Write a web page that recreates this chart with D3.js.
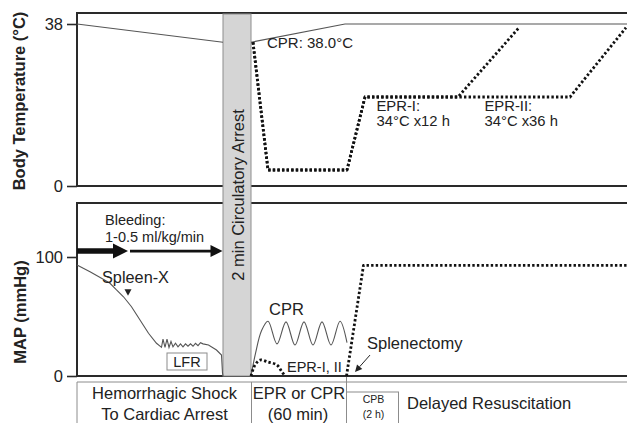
<!DOCTYPE html>
<html>
<head>
<meta charset="utf-8">
<script src="https://cdn.jsdelivr.net/npm/d3@7"></script>
<style>
  body { margin: 0; background: #fff; }
  svg { display: block; }
  text { font-family: "Liberation Sans", Arial, Helvetica, sans-serif; fill: #222; }
</style>
</head>
<body>
<svg id="chart" width="627" height="423"></svg>
<script>
// ---- data (schematic time units along x: 0 .. 110) ----
const tempTicks = [0, 38];
const mapTicks = [0, 100];

// phase boundaries
const arrestStart = 29.2, arrestEnd = 34.8;
const eprEnd = 53.9;

// body temperature (°C)
const tempShock = [[0, 38], [29.2, 37]];
const tempCPR = [[34.8, 37], [53.6, 38], [110, 38]];
const tempEPR1 = [[35.2, 37], [38.2, 10], [54, 10], [57.6, 34], [76.2, 34], [88.4, 37.8]];
const tempEPR2 = [[35.2, 37], [38.2, 10], [54, 10], [57.6, 34], [76.2, 34], [98.6, 34], [109.8, 37.8]];

// mean arterial pressure (mmHg)
const mapShock = [
  [0, 93.3], [2.6, 87.6], [4.9, 82.1], [6.6, 77.9], [7.9, 72.3], [9.3, 66.6],
  [10.9, 58.2], [12.6, 47.1], [14.3, 35.9], [15.9, 27.5], [16.9, 24.1],
  [17.2, 31], [17.6, 24], [18.0, 31], [18.4, 24], [18.8, 29], [19.2, 24.5],
  [19.7, 27.5], [20.2, 24.5], [20.7, 27], [21.2, 24.5], [21.7, 27], [22.2, 25],
  [22.7, 27], [23.2, 25], [23.7, 27.5], [24.2, 25.5], [24.7, 28], [25.2, 27],
  [26.3, 26], [27.9, 21.8], [28.9, 17.6], [29.1, 2.5], [29.2, 0]
];
const mapCPR = [
  [34.8, 0], [35.7, 19], [36.9, 38], [38.2, 46], [40, 27], [41.8, 45.5], [43.6, 26],
  [45.4, 45.5], [47.2, 26], [49, 45.5], [50.8, 26], [52.6, 46], [54, 28]
];
const mapEPRflush = [[34.8, 0], [35.6, 9.2], [36.6, 13.4], [38.2, 11.8], [40, 9.2], [41, 3.4], [41.6, 0]];
const mapEPRcpb = [[53.9, 0], [57.3, 93], [110, 93]];

// annotation anchors
const bleedArrows = [
  { from: 0, to: 10.2, map: 105, width: 5.5, head: 15, half: 7.5 },
  { from: 10.6, to: 29.1, map: 105, width: 2.8, head: 12, half: 6 }
];
const spleenMark = [10.2, 70];
const splenectomyArrow = { from: [58.6, 17.6], to: [55.6, 3.4] };

// ---- layout ----
const svg = d3.select("#chart");
const x = d3.scaleLinear().domain([0, 110]).range([77, 627]);
const yT = d3.scaleLinear().domain([0, 10, 34, 38]).range([186, 170, 97, 24]);
const yM = d3.scaleLinear().domain([0, 100]).range([376, 257]);
const topBox = { y0: 13, y1: 186 };
const botBox = { y0: 203, y1: 376 };

svg.append("rect").attr("width", 627).attr("height", 423).attr("fill", "#fff");

// phase label row
const rowTop = 382;
const rowG = svg.append("g").attr("stroke", "#8c8c8c").attr("stroke-width", 1).attr("fill", "none");
rowG.append("line").attr("x1", x(0)).attr("x2", 627).attr("y1", rowTop).attr("y2", rowTop);
rowG.append("line").attr("x1", x(0)).attr("x2", x(0)).attr("y1", rowTop).attr("y2", 423);
rowG.append("line").attr("x1", x(arrestEnd) + 0.5).attr("x2", x(arrestEnd) + 0.5).attr("y1", rowTop).attr("y2", 423);
rowG.append("line").attr("x1", x(eprEnd)).attr("x2", x(eprEnd)).attr("y1", botBox.y1).attr("y2", 423);
rowG.append("rect").attr("x", x(eprEnd)).attr("y", 392).attr("width", 52).attr("height", 40);

function rowText(tx, ty, str, size, anchor) {
  svg.append("text").attr("x", tx).attr("y", ty).attr("font-size", size)
    .attr("text-anchor", anchor || "middle").text(str);
}
rowText(164.5, 399, "Hemorrhagic Shock", 16.5);
rowText(164.5, 420, "To Cardiac Arrest", 16.5);
rowText(299, 399, "EPR or CPR", 16.5);
rowText(298, 420, "(60 min)", 16.5);
rowText(373.5, 403, "CPB", 10.5);
rowText(373.5, 418, "(2 h)", 10.5);
rowText(407, 409, "Delayed Resuscitation", 16.5, "start");

// panel frames
[topBox, botBox].forEach(b => {
  svg.append("rect").attr("x", x(0)).attr("y", b.y0)
    .attr("width", 630 - x(0)).attr("height", b.y1 - b.y0)
    .attr("fill", "none").attr("stroke", "#2a2a2a").attr("stroke-width", 2);
});

// axes
function styleAxis(g) {
  g.select(".domain").remove();
  g.selectAll(".tick line").attr("stroke", "#2a2a2a").attr("stroke-width", 1.6);
  g.selectAll(".tick text").attr("font-size", 16.5).attr("fill", "#222")
    .attr("font-family", "Liberation Sans, Arial, sans-serif");
}
svg.append("g").attr("transform", `translate(${x(0)},0)`)
  .call(d3.axisLeft(yT).tickValues(tempTicks).tickSize(10).tickPadding(4))
  .call(styleAxis);
svg.append("g").attr("transform", `translate(${x(0)},0)`)
  .call(d3.axisLeft(yM).tickValues(mapTicks).tickSize(10).tickPadding(4))
  .call(styleAxis);

// axis titles
svg.append("text").attr("transform", "translate(24.5,101) rotate(-90)")
  .attr("text-anchor", "middle").attr("font-size", 16.5).attr("font-weight", "bold")
  .text("Body Temperature (°C)");
svg.append("text").attr("transform", "translate(25.5,312) rotate(-90)")
  .attr("text-anchor", "middle").attr("font-size", 16.5).attr("font-weight", "bold")
  .text("MAP (mmHg)");

// circulatory arrest band
svg.append("rect").attr("x", x(arrestStart)).attr("y", topBox.y0 + 1)
  .attr("width", x(arrestEnd) - x(arrestStart)).attr("height", botBox.y1 - topBox.y0 - 1)
  .attr("fill", "#d5d5d5").attr("stroke", "#8e8e8e").attr("stroke-width", 1);
svg.append("text")
  .attr("transform", `translate(${(x(arrestStart) + x(arrestEnd)) / 2 + 7},195) rotate(-90)`)
  .attr("text-anchor", "middle").attr("font-size", 16.5).text("2 min Circulatory Arrest");

// line generators
const lineT = d3.line().x(d => x(d[0])).y(d => yT(d[1]));
const lineM = d3.line().x(d => x(d[0])).y(d => yM(d[1]));
const smoothM = d3.line().x(d => x(d[0])).y(d => yM(d[1])).curve(d3.curveCatmullRom.alpha(0.5));

function solid(path) {
  return path.attr("fill", "none").attr("stroke", "#555").attr("stroke-width", 1.1);
}
function dotted(path) {
  return path.attr("fill", "none").attr("stroke", "#111").attr("stroke-width", 2.8)
    .attr("stroke-dasharray", "2.4 2.2").attr("stroke-linejoin", "round");
}

// temperature traces
solid(svg.append("path").attr("d", lineT(tempShock)));
solid(svg.append("path").attr("d", lineT(tempCPR)));
dotted(svg.append("path").attr("d", lineT(tempEPR2)));
dotted(svg.append("path").attr("d", lineT(tempEPR1)));

// MAP traces
solid(svg.append("path").attr("d", lineM(mapShock)));
solid(svg.append("path").attr("d", smoothM(mapCPR)));
dotted(svg.append("path").attr("d", d3.line().x(d => x(d[0])).y(d => yM(d[1]))
  .curve(d3.curveCatmullRom)(mapEPRflush)));
dotted(svg.append("path").attr("d", lineM(mapEPRcpb)));

// bleeding arrows
bleedArrows.forEach(a => {
  const yy = yM(a.map), x1 = x(a.from), x2 = x(a.to);
  svg.append("line").attr("x1", x1).attr("x2", x2 - a.head + 1).attr("y1", yy).attr("y2", yy)
    .attr("stroke", "#111").attr("stroke-width", a.width);
  svg.append("path")
    .attr("d", `M${x2},${yy} L${x2 - a.head},${yy - a.half} L${x2 - a.head},${yy + a.half} Z`)
    .attr("fill", "#111");
});

// spleen-X marker
{
  const sx = x(spleenMark[0]), sy = yM(spleenMark[1]);
  svg.append("path").attr("d", `M${sx - 3.5},${sy - 3.5} L${sx + 3.5},${sy - 3.5} L${sx},${sy + 3} Z`)
    .attr("fill", "#222");
}

// splenectomy arrow
{
  const [fx, fy] = [x(splenectomyArrow.from[0]), yM(splenectomyArrow.from[1])];
  const [tx, ty] = [x(splenectomyArrow.to[0]), yM(splenectomyArrow.to[1])];
  const ang = Math.atan2(ty - fy, tx - fx), L = 7, W = 3.5;
  const bx = tx - L * Math.cos(ang), by = ty - L * Math.sin(ang);
  svg.append("line").attr("x1", fx).attr("y1", fy).attr("x2", bx).attr("y2", by)
    .attr("stroke", "#222").attr("stroke-width", 1);
  svg.append("path").attr("d",
    `M${tx},${ty} L${bx - W * Math.sin(ang)},${by + W * Math.cos(ang)} L${bx + W * Math.sin(ang)},${by - W * Math.cos(ang)} Z`)
    .attr("fill", "#222");
}

// LFR box
svg.append("rect").attr("x", 167).attr("y", 353).attr("width", 40).attr("height", 17)
  .attr("fill", "#fff").attr("stroke", "#8c8c8c").attr("stroke-width", 1);

// labels
function label(tx, ty, str, size, anchor) {
  svg.append("text").attr("x", tx).attr("y", ty).attr("font-size", size)
    .attr("text-anchor", anchor || "start").text(str);
}
label(267, 47.5, "CPR: 38.0°C", 15);
label(376.5, 110.5, "EPR-I:", 14.8);
label(376.5, 126, "34°C x12 h", 14.8);
label(484.5, 110.5, "EPR-II:", 14.8);
label(484.5, 126, "34°C x36 h", 14.8);
label(105, 225, "Bleeding:", 14.5);
label(105, 242, "1-0.5 ml/kg/min", 14.5);
label(102, 283, "Spleen-X", 16.3);
label(187, 367, "LFR", 14.5, "middle");
label(269, 315, "CPR", 16.5);
label(287, 372, "EPR-I, II", 14.5);
label(367, 349, "Splenectomy", 16.5);
</script>
</body>
</html>
